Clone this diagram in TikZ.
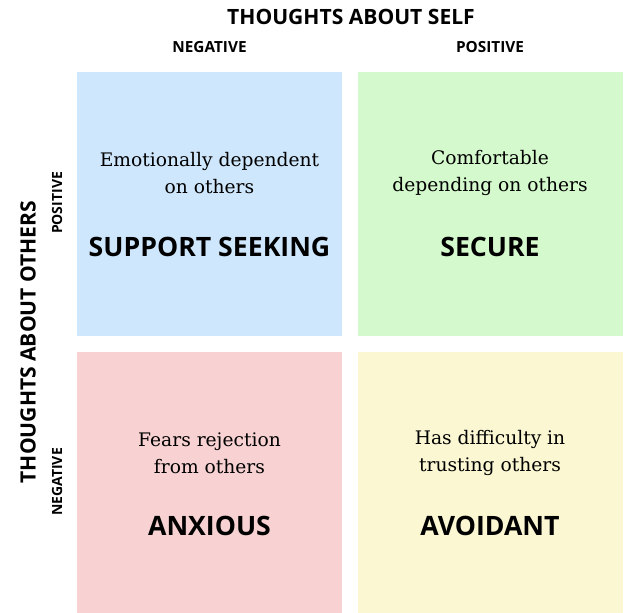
\documentclass[tikz,border=0pt]{standalone}
\usepackage{fontspec}
\setmainfont{DejaVu Serif}
\newfontfamily\headfont{Open Sans}
\usetikzlibrary{positioning}
\definecolor{seekblue}{RGB}{207,231,252}
\definecolor{securegreen}{RGB}{212,249,204}
\definecolor{anxiouspink}{RGB}{248,210,210}
\definecolor{avoidyellow}{RGB}{250,247,210}

\begin{document}
\begin{tikzpicture}[x=0.75pt, y=-0.75pt,
    quad/.style={draw=none, minimum width=198.5pt, minimum height=198pt, inner sep=0pt},
    desc/.style={align=center, font=\fontsize{14}{20}\selectfont},
    kind/.style={font=\headfont\bfseries\fontsize{20}{24}\selectfont},
    axis/.style={font=\headfont\bfseries\fontsize{15.8}{18}\selectfont},
    side/.style={font=\headfont\bfseries\fontsize{10.5}{12}\selectfont}]
        % Fix the page size
        \useasboundingbox (0,0) rectangle (624,613);
        % Draw the four quadrants
        \node[quad, fill=seekblue] (seek) at (209.5,204) {};
        \node[quad, fill=securegreen] (secure) at (490.5,204) {};
        \node[quad, fill=anxiouspink] (anxious) at (209.5,484) {};
        \node[quad, fill=avoidyellow] (avoid) at (490.5,484) {};
        % Add axis labels
        \node[axis] (self) at (351,17) {THOUGHTS ABOUT SELF};
        \node[side, font=\headfont\bfseries\fontsize{11.5}{13}\selectfont] (selfneg) at (209.5,47) {NEGATIVE};
        \node[side, font=\headfont\bfseries\fontsize{11.5}{13}\selectfont] (selfpos) at (490,47) {POSITIVE};
        \node[axis, rotate=90] (others) at (28,342) {THOUGHTS ABOUT OTHERS};
        \node[side, rotate=90] (otherspos) at (57,203) {POSITIVE};
        \node[side, rotate=90] (othersneg) at (57,482) {NEGATIVE};
        % Add descriptions and names
        \node[desc] (seekdesc) at (209.5,173) {Emotionally dependent\\on others};
        \node[kind] (seekname) at (209.5,247) {SUPPORT SEEKING};
        \node[desc] (securedesc) at (490,173) {Comfortable\\depending on others};
        \node[kind] (securename) at (490,247) {SECURE};
        \node[desc] (anxiousdesc) at (209.5,453) {Fears rejection\\from others};
        \node[kind] (anxiousname) at (209.5,526) {ANXIOUS};
        \node[desc] (avoiddesc) at (490,453) {Has difficulty in\\trusting others};
        \node[kind] (avoidname) at (490,526) {AVOIDANT};
      \end{tikzpicture}
\end{document}
